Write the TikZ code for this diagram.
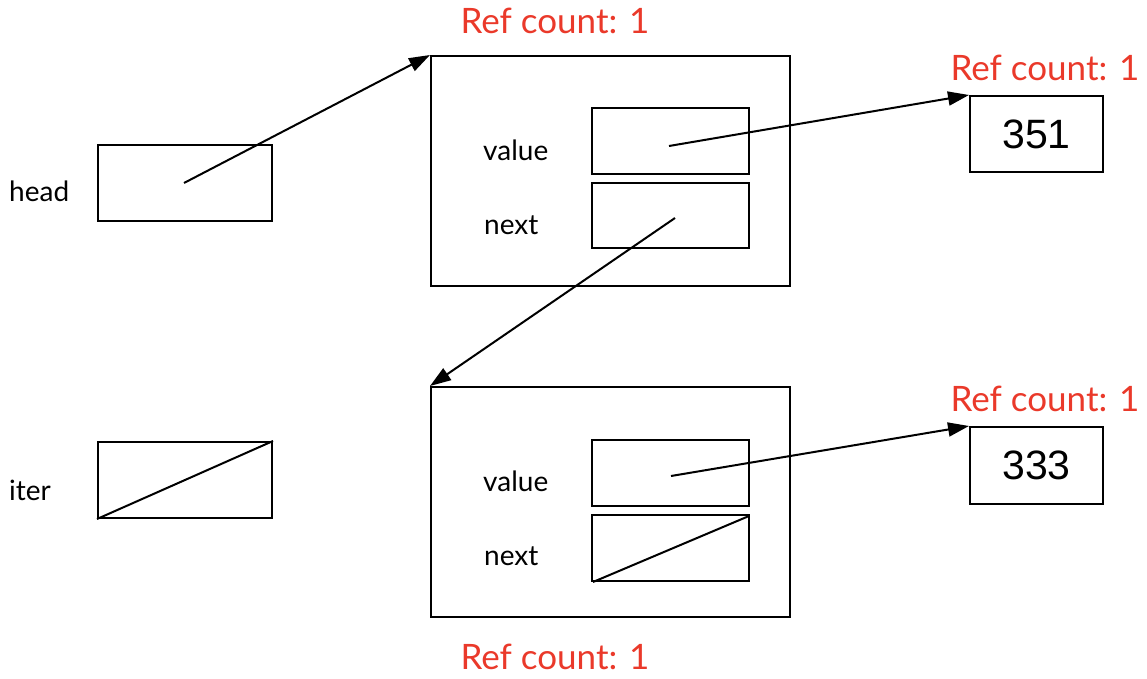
\documentclass[tikz,border=0pt]{standalone}
\usepackage{fontspec}
\setmainfont{Lato}
\newfontfamily\numfont{Liberation Sans}
\usetikzlibrary{arrows.meta}
\definecolor{refred}{RGB}{234,57,42}
\tikzset{
  box/.style={draw, line width=2pt, minimum width=#1, inner sep=0pt},
  lbl/.style={font=\fontsize{28}{32}\selectfont, inner sep=0pt, anchor=west},
  refl/.style={font=\fontsize{35}{40}\selectfont, text=refred, inner sep=0pt},
  num/.style={font=\numfont\fontsize{41}{45}\selectfont},
  ptr/.style={line width=2pt, -{Triangle[length=21pt,width=14pt]}},
  link/.style={line width=2pt},
}
\begin{document}
\begin{tikzpicture}[x=1pt,y=-1pt]
\useasboundingbox (0,0) rectangle (1147,679);
% variables
\node[box=174pt, minimum height=76pt] (head) at (185,183) {};
\node[box=174pt, minimum height=76pt] (iter) at (185,480) {};
\node[lbl] (headl) at (9,191) {head};
\node[lbl] (iterl) at (9,490) {iter};
% node 1
\node[box=359pt, minimum height=230pt] (n1) at (610.5,171) {};
\node[box=157pt, minimum height=66pt] (n1v) at (670.5,141) {};
\node[box=157pt, minimum height=65pt] (n1n) at (670.5,215.5) {};
\node[lbl] (n1vl) at (483,150) {value};
\node[lbl] (n1nl) at (484,225) {next};
\node[refl] (r1) at (555,21) {Ref count: 1};
% node 2
\node[box=359pt, minimum height=230pt] (n2) at (610.5,502) {};
\node[box=157pt, minimum height=66pt] (n2v) at (670.5,473) {};
\node[box=157pt, minimum height=66pt] (n2n) at (670.5,548) {};
\node[lbl] (n2vl) at (483,481) {value};
\node[lbl] (n2nl) at (484,556) {next};
\node[refl] (r2) at (555,657) {Ref count: 1};
% values
\node[box=133pt, minimum height=76pt, num] (v1) at (1036.5,134) {351};
\node[box=133pt, minimum height=77pt, num] (v2) at (1036.5,465.5) {333};
\node[refl] (r3) at (1045,68) {Ref count: 1};
\node[refl] (r4) at (1045,399) {Ref count: 1};
% pointer starts
\coordinate (hs) at (184,183);
\coordinate (n1vs) at (669,146);
\coordinate (n1ns) at (675,218);
\coordinate (n2vs) at (671,476);
% pointers
\draw[ptr] (hs) -- (n1.north west);
\draw[ptr] (n1vs) -- (v1.north west);
\draw[ptr] (n1ns) -- (n2.north west);
\draw[ptr] (n2vs) -- (v2.north west);
% null pointers
\draw[link] (iter.south west) -- (iter.north east);
\draw[link] ([xshift=2pt]n2n.south west) -- ([xshift=-1pt,yshift=-2pt]n2n.north east);
\end{tikzpicture}
\end{document}
